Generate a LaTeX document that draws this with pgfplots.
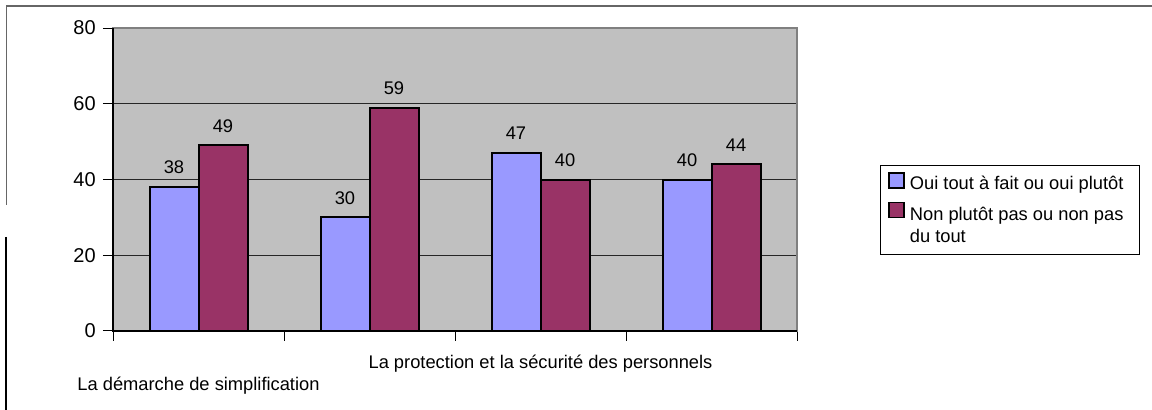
\documentclass[border=0pt]{standalone}
\usepackage{fontspec}
\setmainfont{Liberation Sans}
\usepackage{pgfplots}
\pgfplotsset{compat=1.18}
\definecolor{cBlue}{HTML}{9999FF}
\definecolor{cRed}{HTML}{993366}
\definecolor{cBack}{HTML}{C0C0C0}
\newcommand{\cf}{\fontsize{18.3bp}{22bp}\selectfont}
\pgfplotsset{
  sqA/.style={legend image code/.code={\draw[##1, line width=1.5bp] (0bp,-4.5bp) rectangle (15bp,10.5bp);}},
  sqB/.style={legend image code/.code={\draw[##1, line width=1.5bp] (0bp,9bp) rectangle (15bp,24bp);}},
}
\begin{document}
\cf
\begin{tikzpicture}
\path[use as bounding box] (0,0) rectangle (1152bp,410bp);
\draw[gray!80!black, line width=1.5bp] (6bp,404bp) -- (1152bp,404bp);
\draw[gray!80!black, line width=1bp] (6bp,404bp) -- (6bp,205bp);
\draw[black, line width=1.5bp] (6bp,173bp) -- (6bp,0bp);
\begin{axis}[
  at={(113bp,79bp)}, anchor=south west,
  scale only axis, width=684bp, height=303bp,
  ybar=0pt, bar width=49bp,
  xmin=-0.5, xmax=3.5, ymin=0, ymax=80,
  ytick={0,20,40,60,80},
  xtick={-0.5,0.5,1.5,2.5,3.5}, xticklabels={},
  tick align=outside, major tick length=10bp,
  tick style={black, line width=1bp},
  xtick pos=bottom, ytick pos=left,
  ymajorgrids, grid style={black!85, line width=1.2bp},
  axis background/.style={fill=cBack},
  axis line style={gray, line width=1.5bp},
  /pgf/number format/assume math mode=true,
  yticklabel={\fontsize{20bp}{22bp}\selectfont\pgfmathprintnumber{\tick}},
  yticklabel style={xshift=-1bp},
  nodes near coords={\cf\pgfmathprintnumber{\pgfplotspointmeta}},
  every node near coord/.append style={black, yshift=6bp},
  legend style={at={(1.1213,0.5479)}, anchor=north west, draw=black, line width=0.8bp,
    font=\cf, cells={anchor=west, align=left},
    inner xsep=8bp, inner ysep=7bp, row sep=8bp,
    nodes={inner xsep=5bp}},
  clip=false,
]
\addplot[fill=cBlue, draw=black, line width=2bp, sqA]
  coordinates {(0,38) (1,30) (2,47) (3,40)};
\addlegendentry{Oui tout à fait ou oui plutôt\hspace{3bp}}
\addplot[fill=cRed, draw=black, line width=2bp, sqB]
  coordinates {(0,49) (1,59) (2,40) (3,44)};
\addlegendentry{Non plutôt pas ou non pas\\du tout}
\draw[black, line width=1.5bp] (rel axis cs:0,1) -- (rel axis cs:0,0) -- (rel axis cs:1,0);
\node[font=\cf] at ([yshift=-55bp]axis cs:0,0) {La démarche de simplification};
\node[font=\cf] at ([yshift=-33bp]axis cs:2,0) {La protection et la sécurité des personnels};
\end{axis}
\end{tikzpicture}
\end{document}
